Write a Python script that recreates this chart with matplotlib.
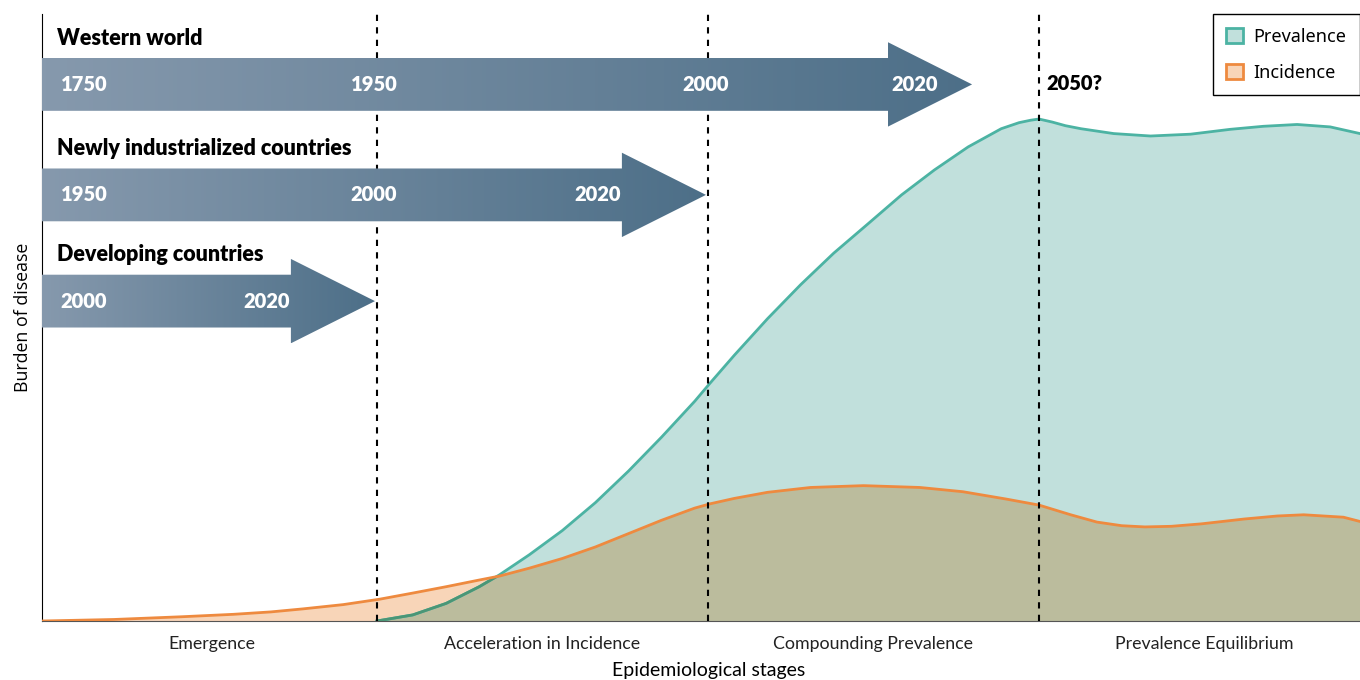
import matplotlib
matplotlib.use("Agg")
import matplotlib.pyplot as plt
import numpy as np
from matplotlib.patches import Polygon, Patch, PathPatch
from matplotlib.colors import LinearSegmentedColormap

# burden curves (x in epidemiological-stage units)
prev_x = [1.0, 1.108, 1.209, 1.309, 1.37, 1.46, 1.56, 1.66, 1.76, 1.86, 1.96,
          2.005, 2.08, 2.18, 2.28, 2.38, 2.485, 2.585, 2.684, 2.786, 2.886,
          2.94, 2.975, 3.0, 3.04, 3.08, 3.127, 3.226, 3.337, 3.458, 3.578,
          3.678, 3.78, 3.88, 3.97]
prevalence = [0, 1.0, 2.9, 5.65, 7.6, 10.9, 14.9, 19.5, 24.7, 30.3, 36.2,
              39.1, 43.8, 49.8, 55.4, 60.6, 65.5, 70.2, 74.3, 78.1, 81.1,
              82.1, 82.5, 82.7, 82.2, 81.6, 81.1, 80.3, 79.9, 80.2, 81.0,
              81.5, 81.8, 81.4, 80.3]

inc_x = [-0.012, 0.205, 0.41, 0.566, 0.68, 0.777, 0.898, 1.009, 1.108, 1.209,
         1.309, 1.37, 1.46, 1.56, 1.66, 1.76, 1.86, 1.96, 2.006, 2.08, 2.18,
         2.31, 2.47, 2.64, 2.77, 2.90, 3.0, 3.096, 3.175, 3.25, 3.32, 3.40,
         3.49, 3.62, 3.72, 3.80, 3.92, 3.97]
incidence = [0, 0.25, 0.7, 1.1, 1.5, 2.0, 2.7, 3.6, 4.6, 5.65,
             6.75, 7.4, 8.7, 10.3, 12.2, 14.4, 16.6, 18.6, 19.3, 20.2, 21.2,
             22.0, 22.3, 22.0, 21.3, 20.1, 19.1, 17.5, 16.3, 15.7, 15.5, 15.6,
             16.0, 16.8, 17.3, 17.5, 17.1, 16.4]

stage_labels = ["Emergence", "Acceleration in Incidence",
                "Compounding Prevalence", "Prevalence Equilibrium"]
stage_bounds = [1, 2, 3]

regions = ["Western world", "Newly industrialized countries", "Developing countries"]
region_years = [["1750", "1950", "2000", "2020"],
                ["1950", "2000", "2020"],
                ["2000", "2020"]]
year_pos = [[0.115, 0.991, 1.994, 2.625],
            [0.115, 0.991, 1.668],
            [0.115, 0.668]]
arrow_tip = [2.798, 1.994, 0.994]
arrow_y = [88.4, 70.2, 52.7]
label_y = [95.9, 77.8, 60.3]

teal = "#4cb3a3"
teal_fill = "#c1e0dc"
teal_dark = "#4a9676"
orange = "#ee8a3f"
orange_fill = "#f8d5b8"
overlap = "#bbbc9d"

fig = plt.figure(figsize=(13.6, 6.8), dpi=100)
ax = fig.add_axes([42 / 1360, 59 / 680, 1318 / 1360, 607 / 680])
x0 = -0.012

# fills, overlap is the incidence area clipped to the prevalence area
prev_poly = ax.fill_between(prev_x, 0, prevalence, color=teal_fill, lw=0, zorder=1)
inc_poly = ax.fill_between(inc_x, 0, incidence, color=orange_fill, lw=0, zorder=1)
both = ax.fill_between(inc_x, 0, incidence, color=overlap, lw=0, zorder=2)
clip_prev = PathPatch(prev_poly.get_paths()[0], transform=ax.transData,
                      facecolor="none", edgecolor="none")
ax.add_patch(clip_prev)
both.set_clip_path(clip_prev)

# lines (teal line darker where it runs under the orange area)
ax.plot(prev_x, prevalence, color=teal, lw=2, zorder=3)
under = ax.plot(prev_x, prevalence, color=teal_dark, lw=2, zorder=3.5)[0]
clip_inc = PathPatch(inc_poly.get_paths()[0], transform=ax.transData,
                     facecolor="none", edgecolor="none")
ax.add_patch(clip_inc)
under.set_clip_path(clip_inc)
ax.plot(inc_x, incidence, color=orange, lw=2, zorder=4)

for b in stage_bounds:
    ax.axvline(b, color="black", lw=1.5, ls=(0, (3, 3)), zorder=5)

# gradient arrows
cmap = LinearSegmentedColormap.from_list("arr", ["#8699ad", "#4d6f88"])
body_h = 8.7
head_h = 13.9
head_len = 0.254
grad = np.linspace(0, 1, 256).reshape(1, -1)
for i in range(3):
    yc = arrow_y[i]
    tip = arrow_tip[i]
    base = tip - head_len
    pts = [(x0, yc - body_h / 2), (base, yc - body_h / 2), (base, yc - head_h / 2),
           (tip, yc), (base, yc + head_h / 2), (base, yc + body_h / 2),
           (x0, yc + body_h / 2)]
    poly = Polygon(pts, closed=True, facecolor="none", edgecolor="none")
    ax.add_patch(poly)
    im = ax.imshow(grad, cmap=cmap, aspect="auto", zorder=6,
                   extent=[x0, tip, yc - head_h / 2, yc + head_h / 2])
    im.set_clip_path(poly)
    ax.text(0.033, label_y[i], regions[i], fontsize=15.5, fontweight="heavy",
            family="Lato", va="center", ha="left", zorder=7)
    for yr, px in zip(region_years[i], year_pos[i]):
        ax.text(px, yc, yr, fontsize=14.5, fontweight="heavy", family="Lato",
                color="white", va="center", ha="center", zorder=7)

ax.text(3.021, 88.6, "2050?", fontsize=14.5, fontweight="heavy", family="Lato",
        va="center", ha="left", zorder=7)

ax.set_xlim(x0, 3.97)
ax.set_ylim(0, 100)
ax.set_xticks([0.5, 1.5, 2.5, 3.5])
ax.set_xticklabels(stage_labels, family=["Liberation Sans Narrow", "Lato"],
                   fontsize=12.8, color="#222222")
ax.set_yticks([])
ax.tick_params(axis="x", length=0, pad=11)
ax.spines["top"].set_visible(False)
ax.spines["right"].set_visible(False)
ax.spines["bottom"].set_color("#555555")
ax.spines["left"].set_color("black")
ax.set_xlabel("Epidemiological stages", family=["Liberation Sans Narrow", "Lato"],
              fontsize=14)
ax.xaxis.set_label_coords(0.5055, -0.068)
ax.set_ylabel("Burden of disease", family="Open Sans", fontsize=12.8, labelpad=7)

handles = [Patch(facecolor=teal_fill, edgecolor=teal, lw=2, label="Prevalence"),
           Patch(facecolor=orange_fill, edgecolor=orange, lw=2, label="Incidence")]
leg = ax.legend(handles=handles, loc="upper right", fancybox=False,
                edgecolor="black", framealpha=1, borderaxespad=0,
                prop={"family": "Noto Sans", "size": 13},
                handlelength=0.9, handleheight=0.9, handletextpad=0.6,
                borderpad=0.75, labelspacing=1.0)
leg.get_frame().set_linewidth(1)
leg.set_zorder(10)

fig.savefig("out.png", dpi=100)
